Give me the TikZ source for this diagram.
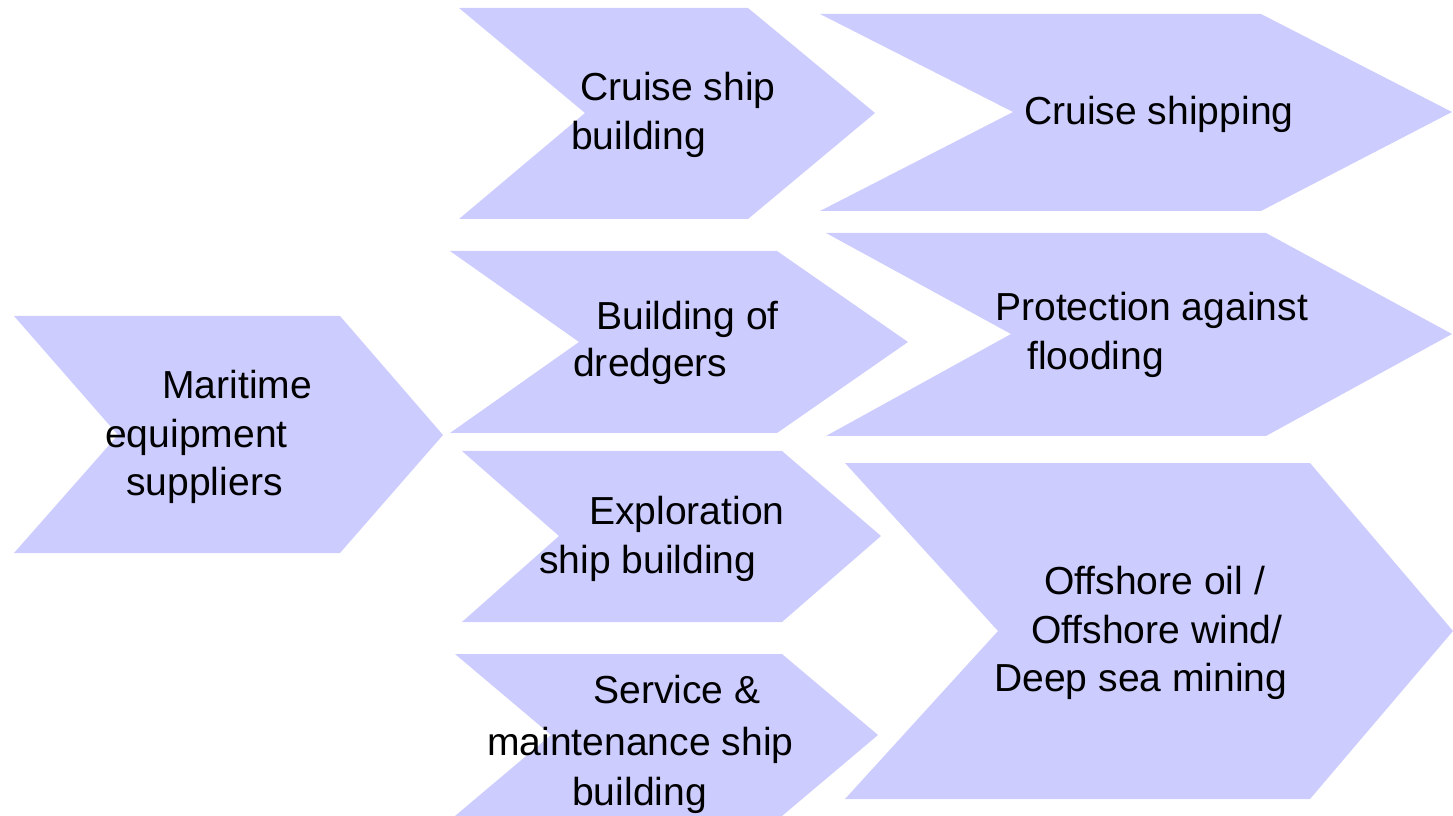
\documentclass[tikz,border=0pt]{standalone}
\usepackage{fontspec}
\setmainfont{Liberation Sans}
\definecolor{chevfill}{HTML}{CCCCFF}
\newcommand{\mychev}[7]{%
  \fill[chev] (#1,#2) -- (#3,#2) -- (#4,#5) -- (#3,#6) -- (#1,#6) -- (#7,#5) -- cycle;}
\begin{document}
\begin{tikzpicture}[x=0.75pt,y=-0.75pt,
  chev/.style={fill=chevfill,draw=none},
  lbl/.style={anchor=base west,inner sep=0pt,font=\fontsize{29.3}{35}\selectfont}]
\useasboundingbox (0,0) rectangle (1453,816);
% chevrons: left, top, right, tip x, mid y, bottom, notch x
\mychev{14}{316}{340}{443}{435}{553}{118}
\mychev{459}{8}{748}{875}{113}{219}{585}
\mychev{820}{14}{1261}{1452}{112}{211}{1013}
\mychev{450}{251}{777}{908}{342}{433}{579}
\mychev{462}{451}{782}{881}{536}{622}{559}
\mychev{455}{654}{782}{878}{735}{816}{551}
\mychev{826}{233}{1266}{1452}{334}{436}{1011}
\mychev{845}{463}{1310}{1453}{631}{799}{998}
% labels
\node[lbl] (m1) at (162,399) {Maritime};
\node[lbl] (m2) at (105,448) {equipment};
\node[lbl] (m3) at (126,495) {suppliers};
\node[lbl] (c1) at (580,101) {Cruise ship};
\node[lbl] (c2) at (571,150) {building};
\node[lbl] (cs) at (1024,125) {Cruise shipping};
\node[lbl] (d1) at (596,330) {Building of};
\node[lbl] (d2) at (573,377) {dredgers};
\node[lbl] (e1) at (589,524) {Exploration};
\node[lbl] (e2) at (539,573) {ship building};
\node[lbl] (s1) at (593,703) {Service \&};
\node[lbl] (s2) at (487,755) {maintenance ship};
\node[lbl] (s3) at (572,805) {building};
\node[lbl] (p1) at (995,321) {Protection against};
\node[lbl] (p2) at (1027,370) {flooding};
\node[lbl] (o1) at (1044,594) {Offshore oil /};
\node[lbl] (o2) at (1031,643) {Offshore wind/};
\node[lbl] (o3) at (994,691) {Deep sea mining};
\end{tikzpicture}
\end{document}
